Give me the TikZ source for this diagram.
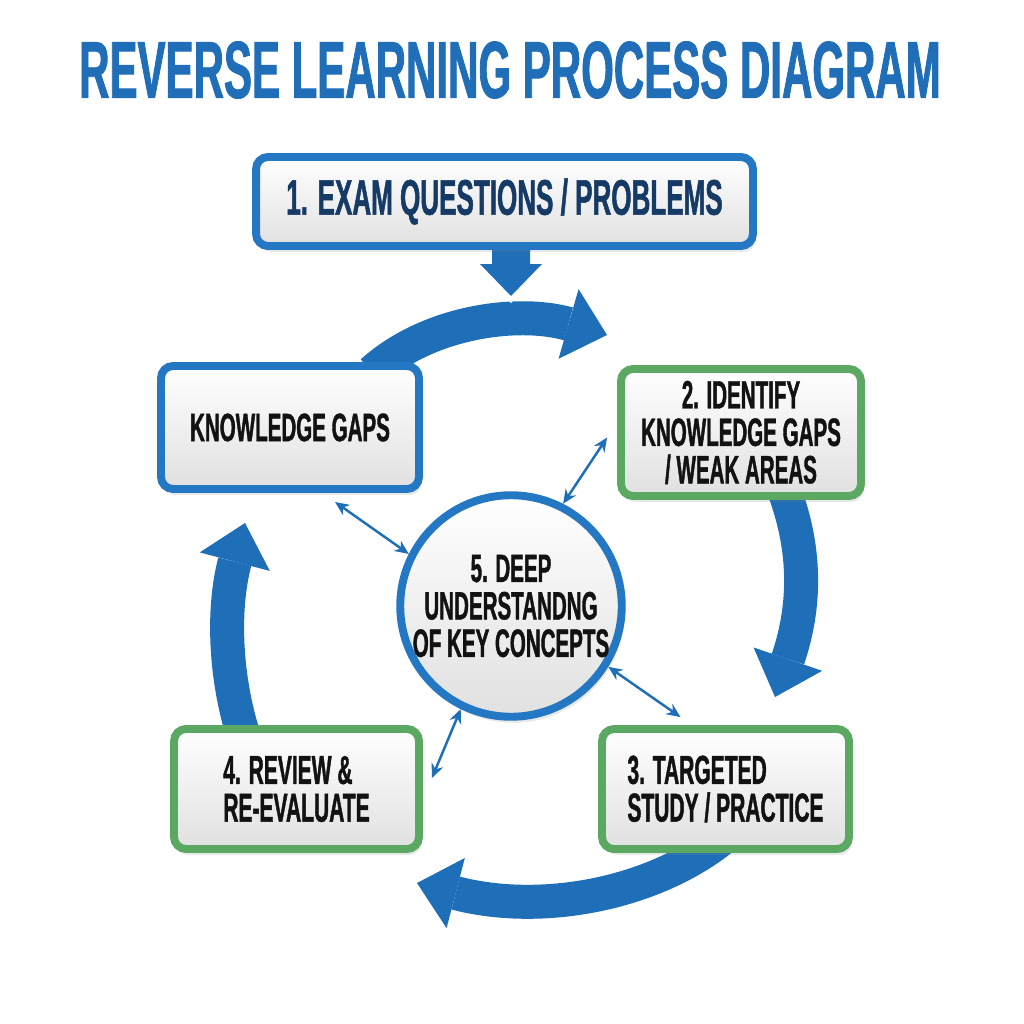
\documentclass[tikz,border=0pt]{standalone}
\usepackage{fontspec}
\setmainfont{Liberation Sans}[FakeStretch=0.52,FakeBold=1]
\usetikzlibrary{arrows.meta,shadows,backgrounds}
\definecolor{arrowblue}{RGB}{31,111,184}
\definecolor{boxblue}{RGB}{36,119,194}
\definecolor{boxgreen}{RGB}{90,168,98}
\definecolor{titleblue}{RGB}{33,110,184}
\definecolor{navy}{RGB}{22,58,102}
\definecolor{ink}{RGB}{18,18,18}
\tikzset{
  card/.style={draw, line width=4.5pt, rounded corners=0.24cm, top color=white, bottom color=black!12,
    drop shadow={shadow xshift=0.05cm, shadow yshift=-0.12cm, opacity=0.18},
    text=ink, inner sep=0pt, font=\bfseries\fontsize{22.5pt}{21.3pt}\selectfont},
  bluecard/.style={card, draw=boxblue},
  greencard/.style={card, draw=boxgreen},
  bigarrow/.style={draw=arrowblue, line width=0.68cm, -{Triangle[length=0.8cm,width=1.45cm,line width=0pt]},
    preaction={draw=white, line width=0.92cm, shorten >=-0.14cm, -{Triangle[length=1.05cm,width=1.75cm,line width=0pt]}}},
  downarrow/.style={bigarrow, line width=0.76cm, -{Triangle[length=0.64cm,width=1.24cm,line width=0pt]},
    preaction={draw=white, line width=1cm, shorten >=-0.14cm, -{Triangle[length=0.9cm,width=1.55cm,line width=0pt]}}},
  link/.style={draw=arrowblue, line width=1.4pt, {Stealth[length=8pt,width=7pt]}-{Stealth[length=8pt,width=7pt]}}
}
\begin{document}
\begin{tikzpicture}[x=0.02cm,y=-0.02cm]
\useasboundingbox (0,0) rectangle (1024,1024);

\node[text=titleblue, font=\bfseries\fontsize{46pt}{46pt}\selectfont] (title) at (510,70) {REVERSE LEARNING PROCESS DIAGRAM};

\node[bluecard, minimum width=9.94cm, minimum height=1.78cm, text=navy, font=\bfseries\fontsize{28.5pt}{28pt}\selectfont] (exam) at (504.5,201.5) {1. EXAM QUESTIONS / PROBLEMS};
\node[bluecard, minimum width=5.16cm, minimum height=2.46cm] (gaps) at (290,427.5) {KNOWLEDGE GAPS\hspace{0.35cm}};
\node[greencard, minimum width=4.8cm, minimum height=2.54cm, align=center] (identify) at (741,432.5) {2. IDENTIFY\\KNOWLEDGE GAPS\\ / WEAK AREAS};
\node[greencard, minimum width=4.94cm, minimum height=2.4cm, align=left, font=\bfseries\fontsize{23pt}{21.5pt}\selectfont] (study) at (725.5,789) {3. TARGETED\\STUDY / PRACTICE};
\node[greencard, minimum width=4.9cm, minimum height=2.4cm, align=left, font=\bfseries\fontsize{23pt}{21.5pt}\selectfont] (review) at (296.5,789) {4. REVIEW \&\\RE-EVALUATE};
\node[card, draw=boxblue, circle, minimum size=4.26cm, align=center] (deep) at (511,606) {5. DEEP\\UNDERSTANDNG\\OF KEY CONCEPTS};

\coordinate (topTip) at (607,335);
\coordinate (rightTip) at (775,697);
\coordinate (bottomTip) at (417,883);
\coordinate (leftTip) at (245,523);
\coordinate (downTip) at (511,296);

\begin{scope}[on background layer]
\draw[bigarrow] ([xshift=-1.02cm,yshift=-0.2cm]gaps.north east) .. controls (430,320) and (520,310) .. (topTip);
\draw[bigarrow] ([xshift=0.78cm,yshift=0.4cm]identify.south) .. controls (805,540) and (808,600) .. (rightTip);
\draw[bigarrow] ([xshift=-0.1cm,yshift=0.26cm]study.south) .. controls (650,895) and (540,915) .. (bottomTip);
\draw[bigarrow] ([xshift=-1.03cm,yshift=-0.3cm]review.north) .. controls (225,680) and (222,610) .. (leftTip);
\draw[downarrow] ([xshift=0.13cm,yshift=0.2cm]exam.south) -- (downTip);
\end{scope}

\draw[link] ([xshift=0.9cm,yshift=-0.18cm]gaps.south) -- (deep.153);
\draw[link] ([xshift=-0.2cm,yshift=-0.1cm]identify.west) -- (deep.63);
\draw[link] (deep.-32) -- ([xshift=-0.9cm,yshift=0.16cm]study.north);
\draw[link] (deep.-116) -- ([xshift=0.18cm,yshift=0.22cm]review.east);
\end{tikzpicture}
\end{document}
